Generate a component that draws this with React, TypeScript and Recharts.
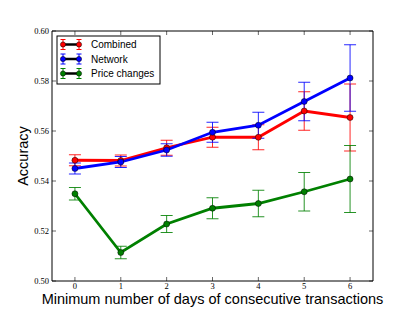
import React from 'react';
import { LineChart, Line, XAxis, YAxis, ErrorBar, Customized } from 'recharts';

const days = [0, 1, 2, 3, 4, 5, 6];
const combined = [0.5483, 0.5482, 0.5533, 0.5575, 0.5575, 0.568, 0.5654];
const combinedErr = [0.0022, 0.0022, 0.003, 0.004, 0.005, 0.0077, 0.0134];
const network = [0.545, 0.5476, 0.5524, 0.5595, 0.5623, 0.5718, 0.5812];
const networkErr = [0.0022, 0.0022, 0.0025, 0.004, 0.0052, 0.0077, 0.0133];
const price = [0.5349, 0.5114, 0.5228, 0.5291, 0.531, 0.5357, 0.5408];
const priceErr = [0.0025, 0.0025, 0.0034, 0.0042, 0.0053, 0.0077, 0.0134];
const yTicks = [0.5, 0.52, 0.54, 0.56, 0.58, 0.6];
const seriesNames = ['Combined', 'Network', 'Price changes'];
const colors = ['#ff0000', '#0000ff', '#008000'];

const data = days.map((d, i) => ({
  day: d,
  combined: combined[i],
  combinedErr: combinedErr[i],
  network: network[i],
  networkErr: networkErr[i],
  price: price[i],
  priceErr: priceErr[i],
}));

const tickFont = { fontFamily: 'Liberation Serif', fontSize: 8.5, fill: '#000' };
const emptyTick = () => <g />;

const Dot = (color: string) => (props: any) => {
  const { cx, cy } = props;
  if (cx == null || cy == null) return <g />;
  return <circle cx={cx} cy={cy} r={3} fill={color} stroke="#000" strokeWidth={0.5} />;
};

const LegendBox = () => {
  const x0 = 57;
  const y0 = 36;
  const rows = [44.5, 59, 73.5];
  return (
    <g>
      <rect x={x0} y={y0} width={103} height={48} fill="#fff" stroke="#000" strokeWidth={1} />
      {seriesNames.map((name, i) => (
        <g key={name}>
          <line x1={63} x2={79} y1={rows[i]} y2={rows[i]} stroke="#000" strokeWidth={2.5} />
          {[63, 79].map((cx) => (
            <g key={cx}>
              <line x1={cx} x2={cx} y1={rows[i] - 5} y2={rows[i] + 5} stroke={colors[i]} strokeWidth={1} />
              <line x1={cx - 2.5} x2={cx + 2.5} y1={rows[i] - 5} y2={rows[i] - 5} stroke={colors[i]} strokeWidth={1} />
              <line x1={cx - 2.5} x2={cx + 2.5} y1={rows[i] + 5} y2={rows[i] + 5} stroke={colors[i]} strokeWidth={1} />
              <circle cx={cx} cy={rows[i]} r={2.6} fill={colors[i]} stroke="#000" strokeWidth={0.5} />
            </g>
          ))}
          <text x={91} y={rows[i]} dy="0.35em" fontFamily="Liberation Sans" fontSize={10} fill="#000">
            {name}
          </text>
        </g>
      ))}
    </g>
  );
};

const Labels = () => (
  <g>
    <text x={212.5} y={299} dy="0.35em" textAnchor="middle" fontFamily="Liberation Sans" fontSize={14.5} fill="#000">
      Minimum number of days of consecutive transactions
    </text>
    <text
      x={23}
      y={156}
      dy="0.35em"
      textAnchor="middle"
      transform="rotate(-90 23 156)"
      fontFamily="Liberation Sans"
      fontSize={14.5}
      fill="#000"
    >
      Accuracy
    </text>
  </g>
);

const series = [
  { key: 'combined', err: 'combinedErr' },
  { key: 'network', err: 'networkErr' },
  { key: 'price', err: 'priceErr' },
];

export default function App() {
  return (
    <div style={{ position: 'absolute', left: 0, top: 0, width: 415, height: 312, background: '#fff' }}>
      <LineChart width={415} height={312} data={data} margin={{ top: 11, right: 22, bottom: 0, left: 12 }}>
        <XAxis
          xAxisId="bottom"
          dataKey="day"
          type="number"
          domain={[-0.5, 6.5]}
          ticks={days}
          allowDataOverflow
          height={31}
          tickSize={-4}
          tickMargin={6}
          tick={tickFont}
          stroke="#000"
          axisLine={{ stroke: '#000', strokeWidth: 1 }}
          tickLine={{ stroke: '#000', strokeWidth: 0.6 }}
        />
        <XAxis
          xAxisId="top"
          orientation="top"
          dataKey="day"
          type="number"
          domain={[-0.5, 6.5]}
          ticks={days}
          allowDataOverflow
          height={20}
          tickSize={-4}
          tick={emptyTick}
          axisLine={{ stroke: '#000', strokeWidth: 1 }}
          tickLine={{ stroke: '#000', strokeWidth: 0.6 }}
        />
        <YAxis
          yAxisId="left"
          type="number"
          domain={[0.5, 0.6]}
          ticks={yTicks}
          allowDataOverflow
          width={40}
          tickSize={-4}
          tickMargin={7}
          tick={tickFont}
          tickFormatter={(v: number) => v.toFixed(2)}
          axisLine={{ stroke: '#000', strokeWidth: 1 }}
          tickLine={{ stroke: '#000', strokeWidth: 0.6 }}
        />
        <YAxis
          yAxisId="right"
          orientation="right"
          type="number"
          domain={[0.5, 0.6]}
          ticks={yTicks}
          allowDataOverflow
          width={20}
          tickSize={-4}
          tick={emptyTick}
          axisLine={{ stroke: '#000', strokeWidth: 1 }}
          tickLine={{ stroke: '#000', strokeWidth: 0.6 }}
        />
        {series.map((s, i) => (
          <Line
            key={s.key}
            xAxisId="bottom"
            yAxisId="left"
            type="linear"
            dataKey={s.key}
            stroke={colors[i]}
            strokeWidth={2.8}
            dot={Dot(colors[i])}
            activeDot={false}
            isAnimationActive={false}
          >
            <ErrorBar
              dataKey={s.err}
              direction="y"
              width={6}
              stroke={colors[i]}
              strokeWidth={1}
              strokeOpacity={0.85}
              isAnimationActive={false}
            />
          </Line>
        ))}
        <Customized component={<LegendBox />} />
        <Customized component={<Labels />} />
      </LineChart>
    </div>
  );
}
